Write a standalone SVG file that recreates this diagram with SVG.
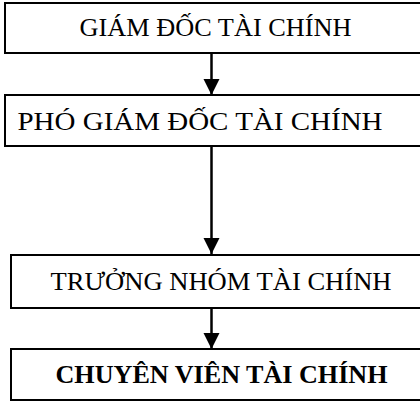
<svg xmlns="http://www.w3.org/2000/svg" width="420" height="401" viewBox="0 0 420 401">
<defs>
<style>
.box{fill:#fff;stroke:#000;stroke-width:2}
.lbl{font-family:"Liberation Serif","Times New Roman",serif;font-size:25px;fill:#000;text-anchor:middle}
.b{font-weight:bold}
.con{stroke:#000;stroke-width:2.5;fill:none}
</style>
<marker id="ah" markerUnits="userSpaceOnUse" markerWidth="16" markerHeight="18" refX="16" refY="8" orient="auto" viewBox="0 0 16 16">
<path d="M0,0 L16,8 L0,16 Z" fill="#000"/>
</marker>
</defs>
<rect width="420" height="401" fill="#fff"/>
<g id="connectors">
<line class="con" x1="211.5" y1="53" x2="211.5" y2="95" marker-end="url(#ah)"/>
<line class="con" x1="211.5" y1="146" x2="211.5" y2="254" marker-end="url(#ah)"/>
<line class="con" x1="211.5" y1="308" x2="211.5" y2="349" marker-end="url(#ah)"/>
</g>
<g id="n1">
<rect class="box" x="5" y="3" width="430" height="50"/>
<text class="lbl" x="215.5" y="36" textLength="272" lengthAdjust="spacingAndGlyphs">GIÁM ĐỐC TÀI CHÍNH</text>
</g>
<g id="n2">
<rect class="box" x="5" y="95" width="430" height="51"/>
<text class="lbl" x="200" y="130" textLength="365" lengthAdjust="spacingAndGlyphs">PHÓ GIÁM ĐỐC TÀI CHÍNH</text>
</g>
<g id="n3">
<rect class="box" x="11" y="255" width="430" height="53"/>
<text class="lbl" x="221" y="290" textLength="341" lengthAdjust="spacingAndGlyphs">TRƯỞNG NHÓM TÀI CHÍNH</text>
</g>
<g id="n4">
<rect class="box" x="11" y="349" width="430" height="51"/>
<text class="lbl b" x="221.5" y="383" textLength="332" lengthAdjust="spacingAndGlyphs">CHUYÊN VIÊN TÀI CHÍNH</text>
</g>
</svg>
